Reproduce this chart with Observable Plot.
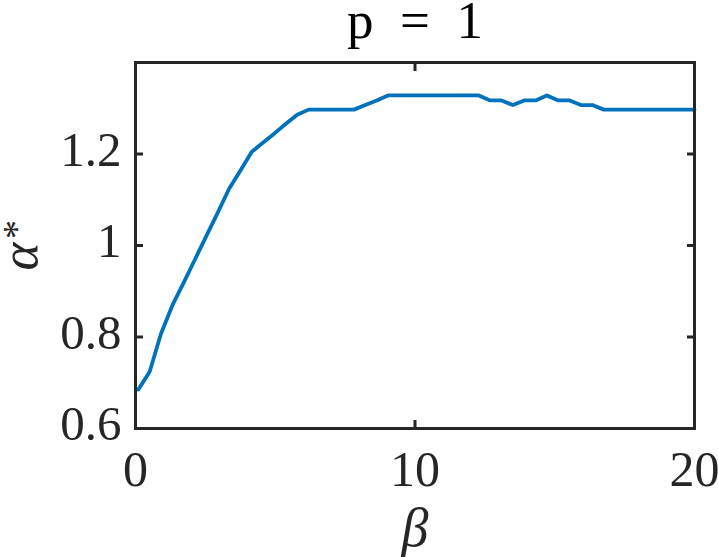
<!DOCTYPE html>
<html>
<head>
<meta charset="utf-8">
<script src="https://cdn.jsdelivr.net/npm/d3@7"></script>
<script src="https://cdn.jsdelivr.net/npm/@observablehq/plot@0.6"></script>
<style>
  html, body { margin: 0; padding: 0; background: #fff; }
  #chart svg { display: block; }
  #chart svg text { font-family: "Liberation Serif", "DejaVu Serif", serif; }
</style>
</head>
<body>
<div id="chart"></div>
<script>
const betaValues = [
  0.100, 0.506, 0.912, 1.318, 1.724, 2.131, 2.537, 2.943, 3.349, 3.755,
  4.161, 4.567, 4.973, 5.380, 5.786, 6.192, 6.598, 7.004, 7.410, 7.816,
  8.222, 8.629, 9.035, 9.441, 9.847, 10.253, 10.659, 11.065, 11.471, 11.878,
  12.284, 12.690, 13.096, 13.502, 13.908, 14.314, 14.720, 15.127, 15.533, 15.939,
  16.345, 16.751, 17.157, 17.563, 17.969, 18.376, 18.782, 19.188, 19.594, 20.000
];
const alphaValues = [
  0.685, 0.724, 0.807, 0.869, 0.919, 0.970, 1.021, 1.072, 1.124, 1.164,
  1.205, 1.225, 1.245, 1.266, 1.286, 1.297, 1.297, 1.297, 1.297, 1.297,
  1.307, 1.317, 1.328, 1.328, 1.328, 1.328, 1.328, 1.328, 1.328, 1.328,
  1.328, 1.317, 1.317, 1.307, 1.317, 1.317, 1.328, 1.317, 1.317, 1.307,
  1.307, 1.297, 1.297, 1.297, 1.297, 1.297, 1.297, 1.297, 1.297, 1.297
];
const xTicks = [0, 10, 20];
const yTicks = [0.6, 0.8, 1, 1.2];
const xDomain = [0, 20];
const yDomain = [0.6, 1.4];
const titleText = "p\u2002=\u20021";
const xLabelText = "β";
const yLabelText = "α";
const yLabelSup = "*";

const data = betaValues.map((b, i) => ({beta: b, alpha: alphaValues[i]}));

const axisColor = "#262626";
const font = "Liberation Serif";

const chart = Plot.plot({
  width: 718,
  height: 557,
  marginLeft: 135,
  marginRight: 24,
  marginTop: 62,
  marginBottom: 129,
  style: {fontFamily: font, background: "#fff", color: axisColor},
  x: {domain: xDomain},
  y: {domain: yDomain},
  marks: [
    Plot.line(data, {x: "beta", y: "alpha", stroke: "#0072BD", strokeWidth: 3.8}),
    // tick marks (inward, on all four sides)
    Plot.axisX(xTicks, {anchor: "bottom", tickSize: -8, tickFormat: () => "", strokeWidth: 3, color: axisColor, label: null}),
    Plot.axisX(xTicks, {anchor: "top", tickSize: -8, tickFormat: () => "", strokeWidth: 3, color: axisColor, label: null}),
    Plot.axisY(yTicks, {anchor: "left", tickSize: -8, tickFormat: () => "", strokeWidth: 3, color: axisColor, label: null}),
    Plot.axisY(yTicks, {anchor: "right", tickSize: -8, tickFormat: () => "", strokeWidth: 3, color: axisColor, label: null}),
    // tick labels
    Plot.axisX(xTicks, {anchor: "bottom", tickSize: 0, tickPadding: 22, fontSize: 50, fontFamily: font, color: axisColor, label: null}),
    Plot.axisY(yTicks, {anchor: "left", tickSize: 0, tickPadding: 14, fontSize: 49, fontFamily: font, dy: -4, color: axisColor, label: null, tickFormat: d => String(d)}),
    Plot.frame({stroke: axisColor, strokeWidth: 3}),
    Plot.text([titleText], {text: d => d, frameAnchor: "top", textAnchor: "middle", dy: -41, fontSize: 53, fontFamily: font, fill: "#000", lineAnchor: "middle"}),
    Plot.text([xLabelText], {text: d => d, frameAnchor: "bottom", textAnchor: "middle", dy: 100, fontSize: 54, fontFamily: font, fontStyle: "italic", fill: axisColor, lineAnchor: "middle"}),
    Plot.text([yLabelText], {text: d => d, frameAnchor: "left", textAnchor: "middle", dx: -115, dy: 11, rotate: -90, fontSize: 53, fontFamily: font, fontStyle: "italic", fill: axisColor, lineAnchor: "middle"}),
    Plot.text([yLabelSup], {text: d => d, frameAnchor: "left", textAnchor: "middle", dx: -119, dy: -16, rotate: -90, fontSize: 38, fontFamily: font, fill: axisColor, lineAnchor: "middle"})
  ]
});
document.getElementById("chart").appendChild(chart);
</script>
</body>
</html>
